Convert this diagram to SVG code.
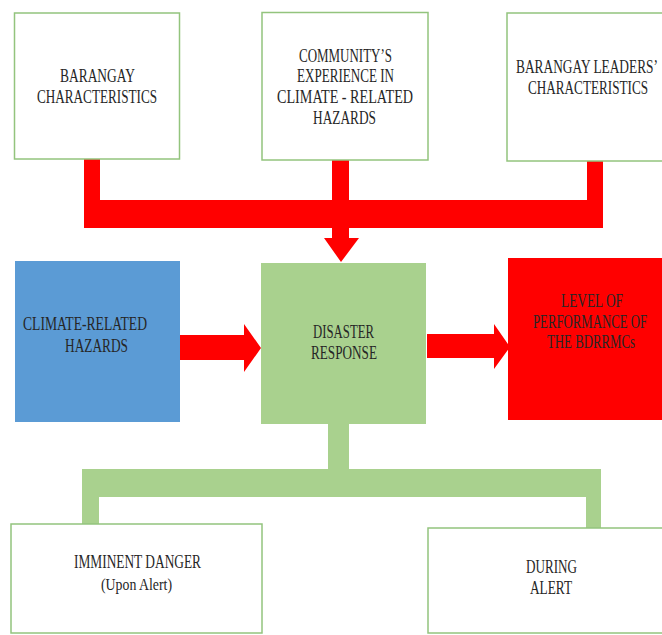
<svg xmlns="http://www.w3.org/2000/svg" width="662" height="635" viewBox="0 0 662 635">
<style>
.box{fill:#ffffff;stroke:#93c47d;stroke-width:1.5}
.t{font-family:"Liberation Serif","Times New Roman",serif;font-size:18px;fill:#262626}
.s{font-size:16px}
.red{fill:#ff0000}
.grn{fill:#a9d18e}
</style>
<rect width="662" height="635" fill="#ffffff"/>
<g id="connectors">
  <path class="red" d="M84,159 H100 V200 H332 V160 H349 V200 H587 V161 H603 V228 H349 V238 H359 L341,262 L324,238 H332 V228 H84 Z"/>
  <polygon class="red" points="179,335 244,335 244,324 261,348 244,372 244,360 179,360"/>
  <polygon class="red" points="427,334 494,334 494,324 510,347 494,369 494,358 427,358"/>
  <path class="grn" d="M328,424 H349 V469 H601 V528 H586 V497 H99 V524 H82 V469 H328 Z"/>
</g>
<g id="n1">
  <rect class="box" x="14.5" y="13" width="165" height="146"/>
  <text class="t" x="60" y="82" textLength="75" lengthAdjust="spacingAndGlyphs">BARANGAY</text>
  <text class="t" x="37" y="103" textLength="120" lengthAdjust="spacingAndGlyphs">CHARACTERISTICS</text>
</g>
<g id="n2">
  <rect class="box" x="262" y="12.5" width="166" height="147.5"/>
  <text class="t" x="299" y="62" textLength="93" lengthAdjust="spacingAndGlyphs">COMMUNITY’S</text>
  <text class="t" x="297" y="82" textLength="97" lengthAdjust="spacingAndGlyphs">EXPERIENCE IN</text>
  <text class="t" x="277" y="103" textLength="136" lengthAdjust="spacingAndGlyphs">CLIMATE  -  RELATED</text>
  <text class="t" x="313" y="124" textLength="63" lengthAdjust="spacingAndGlyphs">HAZARDS</text>
</g>
<g id="n3">
  <rect class="box" x="507" y="13" width="160" height="148"/>
  <text class="t" x="516" y="73" textLength="142" lengthAdjust="spacingAndGlyphs">BARANGAY LEADERS’</text>
  <text class="t" x="528" y="94" textLength="120" lengthAdjust="spacingAndGlyphs">CHARACTERISTICS</text>
</g>
<g id="n4">
  <rect x="15" y="261" width="165" height="161" fill="#5b9bd5"/>
  <text class="t" x="23" y="330" textLength="124" lengthAdjust="spacingAndGlyphs" fill="#1a1a1a">CLIMATE-RELATED</text>
  <text class="t" x="65" y="352" textLength="63" lengthAdjust="spacingAndGlyphs" fill="#1a1a1a">HAZARDS</text>
</g>
<g id="n5">
  <rect x="261" y="263" width="165" height="161" fill="#a9d18e"/>
  <text class="t" x="313" y="338" textLength="61" lengthAdjust="spacingAndGlyphs">DISASTER</text>
  <text class="t" x="311" y="359" textLength="66" lengthAdjust="spacingAndGlyphs">RESPONSE</text>
</g>
<g id="n6">
  <rect x="508" y="258" width="154" height="162" fill="#ff0000"/>
  <text class="t" x="561" y="307" textLength="62" lengthAdjust="spacingAndGlyphs" fill="#3a0a0a">LEVEL OF</text>
  <text class="t" x="533" y="328" textLength="114" lengthAdjust="spacingAndGlyphs" fill="#3a0a0a">PERFORMANCE OF</text>
  <text class="t" x="547" y="348" textLength="88" lengthAdjust="spacingAndGlyphs" fill="#3a0a0a">THE BDRRMCs</text>
</g>
<g id="n7">
  <rect class="box" x="11" y="524" width="251" height="109"/>
  <text class="t" x="74" y="568" textLength="127" lengthAdjust="spacingAndGlyphs">IMMINENT DANGER</text>
  <text class="t s" x="101" y="590" textLength="71" lengthAdjust="spacingAndGlyphs">(Upon Alert)</text>
</g>
<g id="n8">
  <rect class="box" x="428" y="528" width="240" height="105"/>
  <text class="t" x="526" y="573" textLength="51" lengthAdjust="spacingAndGlyphs">DURING</text>
  <text class="t" x="530" y="594" textLength="42" lengthAdjust="spacingAndGlyphs">ALERT</text>
</g>
</svg>
